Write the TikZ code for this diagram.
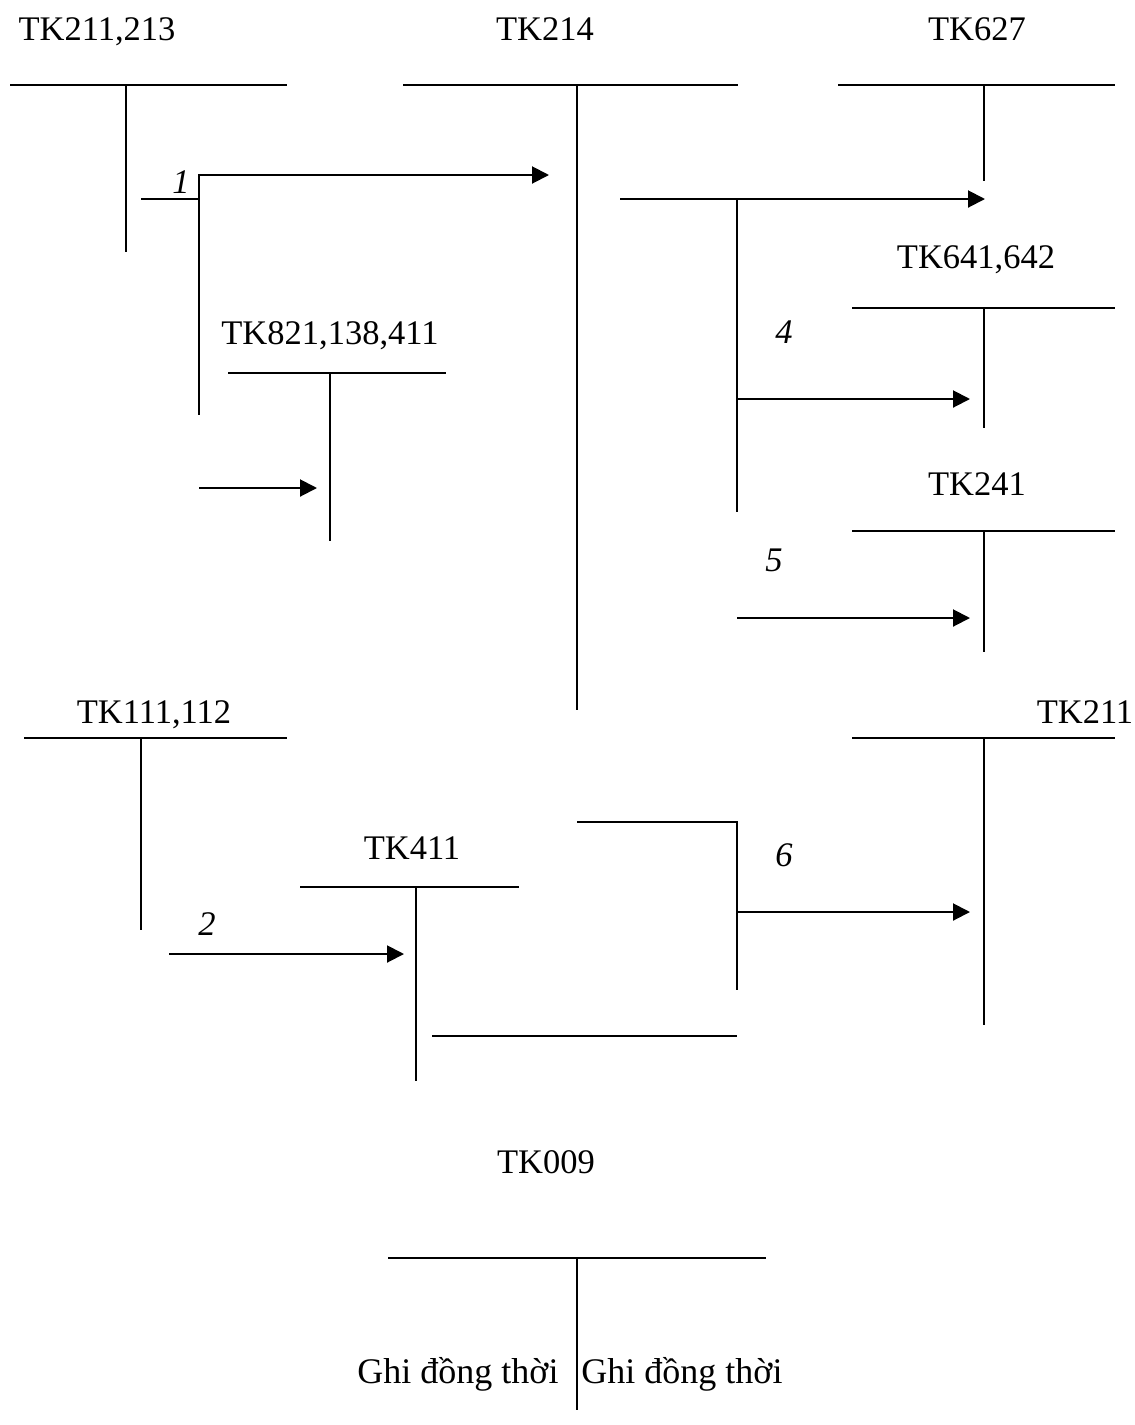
\documentclass[tikz,border=0pt]{standalone}
\usepackage{fontspec}
\setmainfont{Liberation Serif}
\usetikzlibrary{arrows.meta}
\begin{document}
\begin{tikzpicture}[x=1pt,y=-1pt,
  ln/.style={line width=2pt},
  arr/.style={line width=2pt,-{Triangle[length=17pt,width=17pt]}},
  lbl/.style={anchor=base,inner sep=0pt,font=\fontsize{34.5}{40}\selectfont},
  ghi/.style={anchor=base,inner sep=0pt,font=\fontsize{36}{42}\selectfont},
  num/.style={anchor=base,inner sep=0pt,font=\fontsize{34.5}{40}\selectfont\itshape}]
\useasboundingbox[fill=white] (0,0) rectangle (1135,1425);
% labels
\node[lbl] (l1) at (97,40) {TK211,213};
\node[lbl] (l2) at (545,40) {TK214};
\node[lbl] (l3) at (977,40) {TK627};
\node[lbl] (l4) at (976,268) {TK641,642};
\node[lbl] (l5) at (330,344) {TK821,138,411};
\node[lbl] (l6) at (977,495) {TK241};
\node[lbl] (l7) at (154,723) {TK111,112};
\node[lbl] (l8) at (1085,723) {TK211};
\node[lbl] (l9) at (412,859) {TK411};
\node[lbl] (l10) at (546,1173) {TK009};
\node[ghi] (g1) at (458,1383) {Ghi đồng thời};
\node[ghi] (g2) at (682,1383) {Ghi đồng thời};
\node[num] (n1) at (181,193) {1};
\node[num] (n4) at (784,343) {4};
\node[num] (n5) at (774,571) {5};
\node[num] (n2) at (207,935) {2};
\node[num] (n6) at (784,866) {6};
% T-accounts
\draw[ln] (10,85) -- (287,85) (126,85) -- (126,252);
\draw[ln] (403,85) -- (738,85) (577,85) -- (577,710);
\draw[ln] (838,85) -- (1115,85) (984,85) -- (984,181);
\draw[ln] (852,308) -- (1115,308) (984,308) -- (984,428);
\draw[ln] (228,373) -- (446,373) (330,373) -- (330,541);
\draw[ln] (852,531) -- (1115,531) (984,531) -- (984,652);
\draw[ln] (24,738) -- (287,738) (141,738) -- (141,930);
\draw[ln] (852,738) -- (1115,738) (984,738) -- (984,1025);
\draw[ln] (300,887) -- (519,887) (416,887) -- (416,1081);
\draw[ln] (388,1258) -- (766,1258) (577,1258) -- (577,1410);
% connectors
\coordinate (a1s) at (141,199);
\coordinate (a1c) at (199,199);
\draw[ln] (a1s) -- (a1c) (199,174) -- (199,415);
\draw[arr] (199,175) -- (549,175);
\draw[arr] (199,488) -- (317,488);
\draw[arr] (620,199) -- (985,199);
\draw[ln] (737,199) -- (737,512);
\draw[arr] (737,399) -- (970,399);
\draw[arr] (737,618) -- (970,618);
\draw[arr] (169,954) -- (404,954);
\draw[ln] (577,822) -- (737,822) -- (737,990);
\draw[arr] (737,912) -- (970,912);
\draw[ln] (432,1036) -- (737,1036);
\end{tikzpicture}
\end{document}
